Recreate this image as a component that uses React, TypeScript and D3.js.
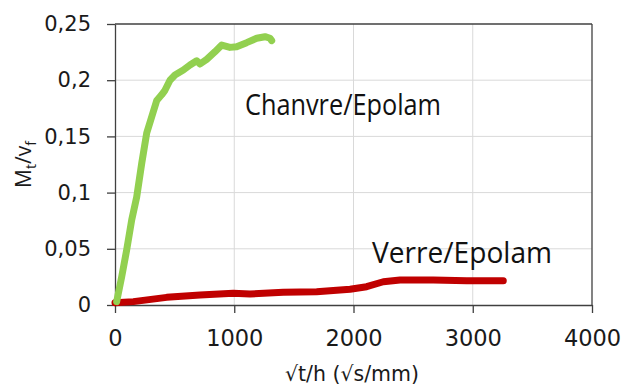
import { useRef, useEffect } from 'react';
import * as d3 from 'd3';

// sqrt(t)/h values and Mt/vf
const chanvreX = [14, 56, 98, 140, 182, 224, 266, 308, 350, 391, 419, 461, 503, 573, 629, 685, 713, 769, 839, 895, 964, 1020, 1104, 1188, 1258, 1300, 1314];
const chanvreY = [0.003, 0.025, 0.049, 0.0756, 0.096, 0.126, 0.153, 0.1675, 0.182, 0.187, 0.191, 0.2, 0.2046, 0.209, 0.2135, 0.2173, 0.2144, 0.2186, 0.2254, 0.2313, 0.2292, 0.2298, 0.2334, 0.2373, 0.2387, 0.2373, 0.2352];

const verreX = [0, 154, 433, 713, 992, 1132, 1411, 1691, 1971, 2110, 2250, 2390, 2669, 2949, 3256];
const verreY = [0.002, 0.003, 0.0068, 0.0089, 0.0104, 0.0098, 0.0113, 0.0118, 0.014, 0.0163, 0.0207, 0.0222, 0.0222, 0.0216, 0.0216];

const xTicks = [0, 1000, 2000, 3000, 4000];
const yTicks = [0, 0.05, 0.1, 0.15, 0.2, 0.25];

const App = () => {
    const ref = useRef<SVGSVGElement>(null);

    useEffect(() => {
        const width = 629;
        const height = 387;
        const margin = { top: 24, right: 37, bottom: 82, left: 115 };

        const svg = d3.select(ref.current);
        svg.selectAll('*').remove();
        svg.attr('viewBox', [0, 0, width, height].join(' '));

        const x = d3.scaleLinear().domain([0, 4000]).range([margin.left, width - margin.right]);
        const y = d3.scaleLinear().domain([0, 0.25]).range([height - margin.bottom, margin.top]);

        const tickFont = 'DejaVu Sans, sans-serif';
        const fmt = (d: number) => String(d).replace('.', ',');

        // gridlines
        svg.append('g')
            .selectAll('line')
            .data(xTicks.slice(1, -1))
            .enter().append('line')
            .attr('x1', (d: number) => x(d)).attr('x2', (d: number) => x(d))
            .attr('y1', y(0)).attr('y2', y(0.25))
            .attr('stroke', '#d9d9d9').attr('stroke-width', 1);
        svg.append('g')
            .selectAll('line')
            .data(yTicks.slice(1, -1))
            .enter().append('line')
            .attr('x1', x(0)).attr('x2', x(4000))
            .attr('y1', (d: number) => y(d)).attr('y2', (d: number) => y(d))
            .attr('stroke', '#d9d9d9').attr('stroke-width', 1);

        // axes
        const xAxis = svg.append('g')
            .attr('transform', `translate(0, ${y(0)})`)
            .call(d3.axisBottom(x).tickValues(xTicks).tickFormat((d: any) => String(d)).tickSize(8).tickSizeOuter(0).tickPadding(17));
        const yAxis = svg.append('g')
            .attr('transform', `translate(${x(0)}, 0)`)
            .call(d3.axisLeft(y).tickValues(yTicks).tickFormat((d: any) => fmt(d)).tickSize(8).tickSizeOuter(0).tickPadding(16));

        [xAxis, yAxis].forEach((g: any) => {
            g.select('.domain').attr('stroke', '#404040').attr('stroke-width', 1.3);
            g.selectAll('.tick line').attr('stroke', '#404040').attr('stroke-width', 1.3);
            g.selectAll('text').attr('font-family', tickFont).attr('fill', '#1a1a1a');
        });
        xAxis.selectAll('text').attr('font-size', 22.5);
        yAxis.selectAll('text').attr('font-size', 21);

        // top and right border
        svg.append('line')
            .attr('x1', x(0)).attr('x2', x(4000)).attr('y1', y(0.25)).attr('y2', y(0.25))
            .attr('stroke', '#404040').attr('stroke-width', 1.3);
        svg.append('line')
            .attr('x1', x(4000)).attr('x2', x(4000)).attr('y1', y(0.25)).attr('y2', y(0))
            .attr('stroke', '#404040').attr('stroke-width', 1.3);

        const line = d3.line<[number, number]>()
            .x((d) => x(d[0]))
            .y((d) => y(d[1]));

        svg.append('path')
            .attr('d', line(verreX.map((v, i) => [v, verreY[i]]) as [number, number][]))
            .attr('fill', 'none')
            .attr('stroke', '#c00000')
            .attr('stroke-width', 7)
            .attr('stroke-linecap', 'round')
            .attr('stroke-linejoin', 'round');

        svg.append('path')
            .attr('d', line(chanvreX.map((v, i) => [v, chanvreY[i]]) as [number, number][]))
            .attr('fill', 'none')
            .attr('stroke', '#92d050')
            .attr('stroke-width', 7)
            .attr('stroke-linecap', 'round')
            .attr('stroke-linejoin', 'round');

        // labels on the curves
        const labelFont = 'Open Sans, sans-serif';
        svg.append('text')
            .attr('x', 245).attr('y', 115)
            .attr('font-family', labelFont).attr('font-size', 29)
            .attr('textLength', 196).attr('lengthAdjust', 'spacingAndGlyphs')
            .attr('fill', '#111')
            .text('Chanvre/Epolam');
        svg.append('text')
            .attr('x', 372).attr('y', 263)
            .attr('font-family', labelFont).attr('font-size', 29)
            .attr('textLength', 180).attr('lengthAdjust', 'spacingAndGlyphs')
            .attr('fill', '#111')
            .text('Verre/Epolam');

        // axis titles
        svg.append('text')
            .attr('x', 352).attr('y', 381)
            .attr('text-anchor', 'middle')
            .attr('font-family', tickFont).attr('font-size', 20.5)
            .attr('fill', '#1a1a1a')
            .text('√t/h (√s/mm)');

        const yt = svg.append('text')
            .attr('transform', `translate(31, ${(y(0) + y(0.25)) / 2}) rotate(-90)`)
            .attr('text-anchor', 'middle')
            .attr('font-family', labelFont).attr('font-size', 21)
            .attr('fill', '#1a1a1a');
        yt.append('tspan').text('M');
        yt.append('tspan').attr('font-size', 14).attr('dy', 5).text('t');
        yt.append('tspan').attr('dy', -5).text('/v');
        yt.append('tspan').attr('font-size', 14).attr('dy', 5).text('f');
    }, []);

    return (
        <div style={{ position: 'absolute', left: 0, top: 0 }}>
            <svg ref={ref} width={629} height={387} style={{ display: 'block', background: '#fff' }}></svg>
        </div>
    );
};

export default App;
